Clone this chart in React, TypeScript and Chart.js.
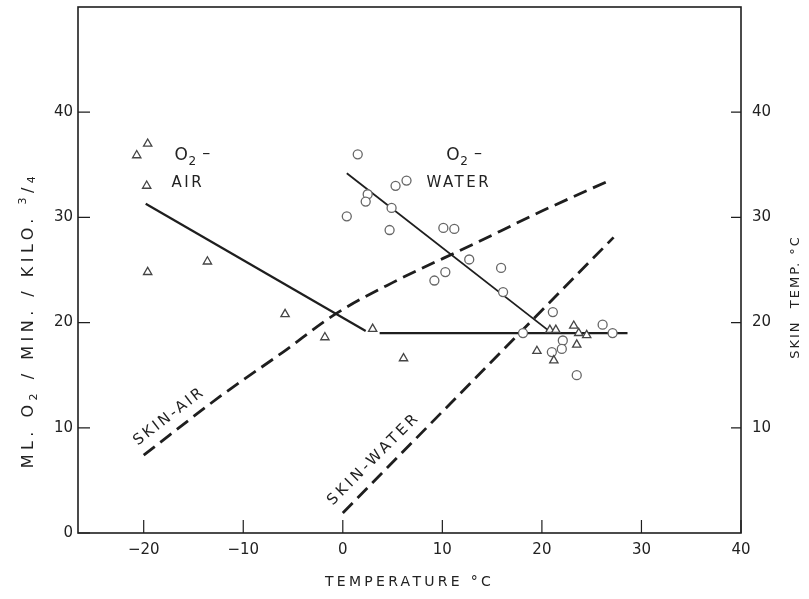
import React, { useEffect, useRef } from "react";
import { Chart, registerables } from "chart.js";

Chart.register(...registerables);

// ---- data ----
const xTickValues = [-20, -10, 0, 10, 20, 30, 40];
const yTickValues = [0, 10, 20, 30, 40];
const y2TickValues = [10, 20, 30, 40];

// O2 consumption in air (triangles)
const airX = [-20.7, -19.6, -19.7, -19.6, -13.6, -5.8, -1.8, 3.0, 6.1, 19.5, 20.8, 21.4, 21.2, 23.2, 23.5, 23.7, 24.5];
const airY = [35.9, 37.0, 33.0, 24.8, 25.8, 20.8, 18.6, 19.4, 16.6, 17.3, 19.3, 19.3, 16.4, 19.7, 17.9, 19.0, 18.8];

// O2 consumption in water (circles)
const waterX = [1.5, 0.4, 2.5, 2.3, 5.3, 6.4, 4.9, 4.7, 10.1, 11.2, 12.7, 15.9, 10.3, 9.2, 16.1, 21.1, 18.1, 22.1, 22.0, 21.0, 26.1, 27.1, 23.5];
const waterY = [36.0, 30.1, 32.2, 31.5, 33.0, 33.5, 30.9, 28.8, 29.0, 28.9, 26.0, 25.2, 24.8, 24.0, 22.9, 21.0, 19.0, 18.3, 17.5, 17.2, 19.8, 19.0, 15.0];

// fitted lines
const airFitX = [-19.8, 2.3];
const airFitY = [31.3, 19.2];
const plateauX = [3.7, 28.6];
const plateauY = [19.0, 19.0];
const waterFitX = [0.4, 21.0];
const waterFitY = [34.2, 19.0];

// skin temperatures (right axis)
const skinAirX = [-20, -12.3, -6, -0.6, 5, 13, 20, 27];
const skinAirY = [7.4, 13.0, 17.2, 20.9, 23.8, 27.4, 30.6, 33.6];
const skinWaterX = [0, 27.2];
const skinWaterY = [1.9, 28.1];

// ---- styling ----
const FONT = "'DejaVu Sans', sans-serif";
const TEXT = "#222";
const INK = "#1e1e1e";

const toPts = (xs: number[], ys: number[]) => xs.map((x, i) => ({ x, y: ys[i] }));

type Seg = { t: string; s: number; dy?: number };

// draws a run of text segments (with sub/superscripts) from / centred at the origin
function drawSegs(ctx: CanvasRenderingContext2D, segs: Seg[], spacing: number, align: "center" | "left") {
  (ctx as any).letterSpacing = spacing + "px";
  ctx.textAlign = "left";
  ctx.textBaseline = "alphabetic";
  let total = 0;
  const widths = segs.map((g) => {
    ctx.font = `${g.s}px ${FONT}`;
    const w = ctx.measureText(g.t).width;
    total += w;
    return w;
  });
  let x = align === "center" ? -total / 2 : 0;
  segs.forEach((g, i) => {
    ctx.font = `${g.s}px ${FONT}`;
    ctx.fillText(g.t, x, g.dy || 0);
    x += widths[i];
  });
}

const decor = {
  id: "decor",
  afterDraw(chart: any) {
    const { ctx, chartArea: a, scales } = chart;
    const sx = scales.x;
    const sy = scales.y;
    const sy2 = scales.y2;
    ctx.save();
    // frame
    ctx.strokeStyle = INK;
    ctx.lineWidth = 1.6;
    ctx.strokeRect(a.left, a.top, a.right - a.left, a.bottom - a.top);
    // inward ticks
    ctx.lineWidth = 1.2;
    ctx.beginPath();
    xTickValues.forEach((v) => {
      const px = sx.getPixelForValue(v);
      ctx.moveTo(px, a.bottom);
      ctx.lineTo(px, a.bottom - 13);
    });
    yTickValues.forEach((v) => {
      const py = sy.getPixelForValue(v);
      ctx.moveTo(a.left, py);
      ctx.lineTo(a.left + 12, py);
    });
    y2TickValues.forEach((v) => {
      const py = sy2.getPixelForValue(v);
      ctx.moveTo(a.right, py);
      ctx.lineTo(a.right - 10, py);
    });
    ctx.stroke();

    ctx.fillStyle = TEXT;
    // x axis title
    (ctx as any).letterSpacing = "3.3px";
    ctx.font = `14px ${FONT}`;
    ctx.textAlign = "center";
    ctx.textBaseline = "middle";
    ctx.fillText("TEMPERATURE °C", (a.left + a.right) / 2, 582);

    // right axis title
    (ctx as any).letterSpacing = "2px";
    ctx.font = `13px ${FONT}`;
    ctx.save();
    ctx.translate(796, 297);
    ctx.rotate(-Math.PI / 2);
    ctx.fillText("SKIN  TEMP. °C", 0, 0);
    ctx.restore();

    // left axis title
    ctx.save();
    ctx.translate(33, 320);
    ctx.rotate(-Math.PI / 2);
    drawSegs(
      ctx,
      [
        { t: "ML. O", s: 16 },
        { t: "2", s: 11, dy: 4 },
        { t: " / MIN. / KILO. ", s: 16 },
        { t: "3", s: 11, dy: -7 },
        { t: "/", s: 16 },
        { t: "4", s: 11, dy: 2 },
      ],
      4.5,
      "center"
    );
    ctx.restore();

    // annotations
    const o2: Seg[] = [
      { t: "O", s: 17 },
      { t: "2", s: 12, dy: 5 },
      { t: " –", s: 16, dy: -2 },
    ];
    ctx.save();
    ctx.translate(sx.getPixelForValue(-16.9), sy.getPixelForValue(35.5));
    drawSegs(ctx, o2, 0.5, "left");
    ctx.restore();
    ctx.save();
    ctx.translate(sx.getPixelForValue(10.4), sy.getPixelForValue(35.5));
    drawSegs(ctx, o2, 0.5, "left");
    ctx.restore();

    (ctx as any).letterSpacing = "2.5px";
    ctx.font = `15px ${FONT}`;
    ctx.textAlign = "left";
    ctx.textBaseline = "middle";
    ctx.fillText("AIR", sx.getPixelForValue(-17.2), sy.getPixelForValue(33.3));
    ctx.fillText("WATER", sx.getPixelForValue(8.4), sy.getPixelForValue(33.3));

    (ctx as any).letterSpacing = "2.6px";
    ctx.font = `15px ${FONT}`;
    ctx.textBaseline = "alphabetic";
    ctx.save();
    ctx.translate(sx.getPixelForValue(-20.6), sy.getPixelForValue(8.3));
    ctx.rotate((-37.5 * Math.PI) / 180);
    ctx.fillText("SKIN-AIR", 0, 0);
    ctx.restore();

    (ctx as any).letterSpacing = "3.2px";
    ctx.save();
    ctx.translate(sx.getPixelForValue(-1.0), sy.getPixelForValue(2.6));
    ctx.rotate((-45 * Math.PI) / 180);
    ctx.fillText("SKIN-WATER", 0, 0);
    ctx.restore();

    ctx.restore();
  },
};

const bgPlugin = {
  id: "bg",
  beforeDraw(chart: any) {
    const { ctx, width, height } = chart;
    ctx.save();
    ctx.fillStyle = "#ffffff";
    ctx.fillRect(0, 0, width, height);
    ctx.restore();
  },
};

export default function App() {
  const ref = useRef<HTMLCanvasElement | null>(null);

  useEffect(() => {
    if (!ref.current) return;
    const tickFont = { family: FONT, size: 15 };
    const noPadV = (s: any, w: number) => {
      s.width = w;
      s.paddingTop = 0;
      s.paddingBottom = 0;
    };
    const chart = new Chart(ref.current, {
      type: "scatter",
      data: {
        datasets: [
          {
            label: "O2 - air",
            data: toPts(airX, airY),
            pointStyle: "triangle",
            pointRadius: 4.8,
            pointBorderColor: "#444",
            pointBackgroundColor: "#ffffff",
            pointBorderWidth: 1.3,
            showLine: false,
            yAxisID: "y",
          },
          {
            label: "O2 - water",
            data: toPts(waterX, waterY),
            pointStyle: "circle",
            pointRadius: 4.5,
            pointBorderColor: "#666",
            pointBackgroundColor: "#ffffff",
            pointBorderWidth: 1.3,
            showLine: false,
            yAxisID: "y",
          },
          {
            label: "air fit",
            data: toPts(airFitX, airFitY),
            showLine: true,
            pointRadius: 0,
            borderColor: INK,
            borderWidth: 2.2,
            yAxisID: "y",
          },
          {
            label: "plateau",
            data: toPts(plateauX, plateauY),
            showLine: true,
            pointRadius: 0,
            borderColor: INK,
            borderWidth: 2.2,
            yAxisID: "y",
          },
          {
            label: "water fit",
            data: toPts(waterFitX, waterFitY),
            showLine: true,
            pointRadius: 0,
            borderColor: INK,
            borderWidth: 1.8,
            yAxisID: "y",
          },
          {
            label: "skin - air",
            data: toPts(skinAirX, skinAirY),
            showLine: true,
            pointRadius: 0,
            borderColor: INK,
            borderWidth: 2.8,
            borderDash: [14, 7],
            cubicInterpolationMode: "monotone",
            yAxisID: "y2",
          },
          {
            label: "skin - water",
            data: toPts(skinWaterX, skinWaterY),
            showLine: true,
            pointRadius: 0,
            borderColor: INK,
            borderWidth: 2.8,
            borderDash: [14, 7],
            yAxisID: "y2",
          },
        ],
      },
      options: {
        animation: false,
        responsive: false,
        layout: { padding: { top: 7, left: 0, right: 0, bottom: 0 } },
        plugins: { legend: { display: false }, tooltip: { enabled: false } },
        scales: {
          x: {
            type: "linear",
            min: -26.6,
            max: 40,
            afterBuildTicks: (s: any) => {
              s.ticks = xTickValues.map((v) => ({ value: v }));
            },
            afterFit: (s: any) => {
              s.height = 66;
              s.paddingLeft = 0;
              s.paddingRight = 0;
            },
            grid: { display: false, drawTicks: false },
            border: { display: false },
            ticks: {
              padding: 8,
              color: TEXT,
              font: tickFont,
              maxRotation: 0,
              callback: (v: any) => (v < 0 ? "−" + Math.abs(v) : String(v)),
            },
          },
          y: {
            type: "linear",
            position: "left",
            min: 0,
            max: 50,
            afterBuildTicks: (s: any) => {
              s.ticks = yTickValues.map((v) => ({ value: v }));
            },
            afterFit: (s: any) => noPadV(s, 78),
            grid: { display: false, drawTicks: false },
            border: { display: false },
            ticks: { padding: 5, color: TEXT, font: tickFont },
          },
          y2: {
            type: "linear",
            position: "right",
            min: 0,
            max: 50,
            afterBuildTicks: (s: any) => {
              s.ticks = y2TickValues.map((v) => ({ value: v }));
            },
            afterFit: (s: any) => noPadV(s, 68),
            grid: { display: false, drawTicks: false },
            border: { display: false },
            ticks: { padding: 11, color: TEXT, font: tickFont },
          },
        },
      },
      plugins: [bgPlugin, decor],
    } as any);
    return () => chart.destroy();
  }, []);

  return (
    <div style={{ position: "absolute", left: 0, top: 0, width: 809, height: 599 }}>
      <canvas ref={ref} width={809} height={599} style={{ display: "block" }} />
    </div>
  );
}
